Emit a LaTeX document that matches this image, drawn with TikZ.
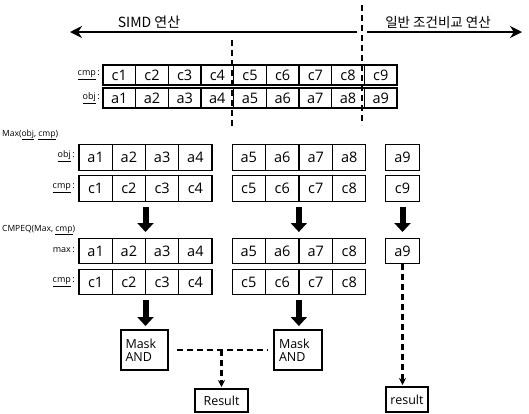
\documentclass[tikz,border=0pt]{standalone}
\usepackage{fontspec}
\setmainfont{Open Sans}
\newfontfamily\kr{Noto Sans CJK KR}
\usetikzlibrary{arrows.meta}
\begin{document}
\begin{tikzpicture}[x=1pt,y=-1pt,
  tcell/.style={draw,line width=1.2pt,minimum width=32.67pt,minimum height=20pt,inner sep=0pt,outer sep=0pt,font=\fontsize{14.5}{14}\selectfont},
  bcell/.style={draw,line width=1.2pt,minimum width=33.25pt,minimum height=25.5pt,inner sep=0pt,outer sep=0pt,font=\fontsize{14.5}{14}\selectfont},
  lbl/.style={anchor=east,inner sep=0pt,font=\fontsize{9}{9}\selectfont},
  ttl/.style={anchor=west,inner sep=0pt,font=\fontsize{8.5}{9}\selectfont},
  box/.style={draw,line width=1.2pt,inner sep=0pt,outer sep=0pt,font=\fontsize{12.5}{13.5}\selectfont},
  bigarr/.style={line width=6pt,-{Triangle[length=9pt,width=16pt]}},
  dsh/.style={line width=2.4pt,dash pattern=on 6pt off 4pt},
  toparr/.style={line width=2.8pt,-{Stealth[length=12pt,width=12pt]}}
]
\useasboundingbox (0,0) rectangle (529,413);

% header
\node[inner sep=0pt,font=\kr\fontsize{14}{14}\selectfont] (simd) at (149,22) {SIMD 연산};
\node[inner sep=0pt,font=\kr\fontsize{13.5}{14}\selectfont] (gen) at (438,22) {일반 조건비교 연산};
\coordinate (dv1t) at (362,5);
\coordinate (dv1b) at (362,125);
\coordinate (dv2t) at (232,40);
\coordinate (dv2b) at (232,128);
\coordinate (al) at (70,32);
\coordinate (alr) at (357,32);
\coordinate (ar) at (522,32);
\coordinate (arl) at (367,32);
\draw[toparr] (alr) -- (al);
\draw[toparr] (arl) -- (ar);

% top rows
\foreach \t [count=\i] in {c1,c2,c3,c4,c5,c6,c7,c8,c9}
  \node[tcell] (tc\i) at ({103+(\i-0.5)*32.67},75) {\t};
\foreach \t [count=\i] in {a1,a2,a3,a4,a5,a6,a7,a8,a9}
  \node[tcell] (ta\i) at ({103+(\i-0.5)*32.67},98) {\t};
\node[lbl] (ltc) at (100,75) {\underline{cmp}\,:};
\node[lbl] (lta) at (100,98) {\underline{obj}\,:};

\draw[dsh] (dv1t) -- (dv1b);
\draw[dsh] (dv2t) -- (dv2b);

% Max section
\node[ttl] (tmax) at (2,135) {Max(\underline{obj}, \underline{cmp})};
\foreach \t [count=\i] in {a1,a2,a3,a4}
  \node[bcell] (po\i) at ({79+(\i-0.5)*33.25},157.5) {\t};
\foreach \t [count=\i] in {c1,c2,c3,c4}
  \node[bcell] (pc\i) at ({79+(\i-0.5)*33.25},188.5) {\t};
\foreach \t [count=\i from 5] in {a5,a6,a7,a8}
  \node[bcell] (po\i) at ({232+(\i-4.5)*33.5},157.5) {\t};
\foreach \t [count=\i from 5] in {c5,c6,c7,c8}
  \node[bcell] (pc\i) at ({232+(\i-4.5)*33.5},188.5) {\t};
\node[bcell] (po9) at (402.5,157.5) {a9};
\node[bcell] (pc9) at (402.5,188.5) {c9};
\node[lbl] (lpo) at (75,156) {\underline{obj}\,:};
\node[lbl] (lpc) at (75,188) {\underline{cmp}\,:};

% arrows
\draw[bigarr] ([yshift=-6pt]pc2.south east) -- ([yshift=6pt]pc2.south east |- 0,238);
\draw[bigarr] ([yshift=-6pt]pc6.south east) -- ([yshift=6pt]pc6.south east |- 0,238);
\draw[bigarr] ([yshift=-6pt]pc9.south) -- ([yshift=6pt]pc9.south |- 0,238);

% CMPEQ section
\node[ttl] (tcmp) at (2,230) {CMPEQ(Max, \underline{cmp})};
\foreach \t [count=\i] in {a1,a2,a3,a4}
  \node[bcell] (qm\i) at ({79+(\i-0.5)*33.25},251) {\t};
\foreach \t [count=\i] in {c1,c2,c3,c4}
  \node[bcell] (qc\i) at ({79+(\i-0.5)*33.25},282) {\t};
\foreach \t [count=\i from 5] in {a5,a6,a7,c8}
  \node[bcell] (qm\i) at ({232+(\i-4.5)*33.5},251) {\t};
\foreach \t [count=\i from 5] in {c5,c6,c7,c8}
  \node[bcell] (qc\i) at ({232+(\i-4.5)*33.5},282) {\t};
\node[bcell] (qm9) at (402.5,251) {a9};
\node[lbl] (lqm) at (75,250) {max\,:};
\node[lbl] (lqc) at (75,282) {\underline{cmp}\,:};

% mask boxes
\node[box,minimum width=47pt,minimum height=40pt,align=left,text width=38pt] (m1) at (144.5,350) {Mask\\AND};
\node[box,minimum width=48pt,minimum height=40pt,align=left,text width=38pt] (m2) at (298,350) {Mask\\AND};
\node[box,minimum width=53pt,minimum height=23pt] (r1) at (221.5,400.5) {Result};
\node[box,minimum width=42pt,minimum height=25pt] (r2) at (407,399.5) {result};

\draw[bigarr] ([yshift=-5pt]qc2.south east) -- ([yshift=4pt]qc2.south east |- m1.north);
\draw[bigarr] ([yshift=-5pt]qc6.south east) -- ([yshift=4pt]qc6.south east |- m2.north);

\coordinate (jn) at (r1.north |- m1.east);
\draw[dsh] ([xshift=9pt]m1.east) -- ([xshift=-6pt]m2.west);
\draw[dsh,-{Stealth[length=7pt,width=7pt]}] (jn) -- ([yshift=2pt]r1.north);
\draw[dsh,-{Stealth[length=7pt,width=7pt]}] (qm9.south) -- ([yshift=2pt]qm9.south |- r2.north);
\end{tikzpicture}
\end{document}
